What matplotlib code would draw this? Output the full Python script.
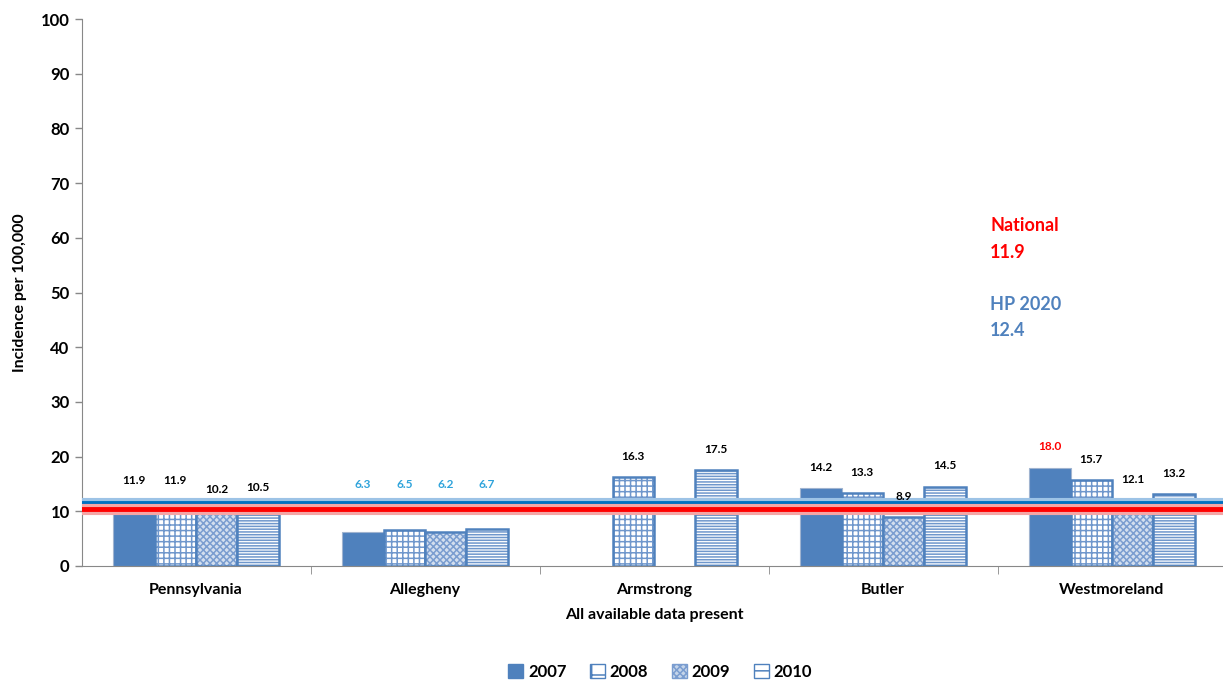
import numpy as np
import matplotlib.pyplot as plt
from matplotlib.patches import Patch

plt.rcParams['font.family'] = ['Lato', 'DejaVu Sans']
plt.rcParams['font.weight'] = 'bold'
plt.rcParams['hatch.linewidth'] = 1.1

counties = ['Pennsylvania', 'Allegheny', 'Armstrong', 'Butler', 'Westmoreland']
years = ['2007', '2008', '2009', '2010']
v2007 = [11.9, 6.3, np.nan, 14.2, 18.0]
v2008 = [11.9, 6.5, 16.3, 13.3, 15.7]
v2009 = [10.2, 6.2, np.nan, 8.9, 12.1]
v2010 = [10.5, 6.7, 17.5, 14.5, 13.2]
national = 11.9
hp2020 = 12.4
# where the reference lines sit on the chart
national_line = 10.5
hp2020_line = 11.5

BLUE = '#4F81BD'
series = [v2007, v2008, v2009, v2010]

fig = plt.figure(figsize=(12.23, 6.82), dpi=100)
ax = fig.add_axes([81.5 / 1223, 1 - 566 / 682, 1145 / 1223, 547 / 682])

x = np.arange(len(counties))
w = 0.181
offsets = (np.arange(4) - 1.5) * w


def draw_bars(i, vals):
    xs = x + offsets[i]
    if i == 0:
        ax.bar(xs, vals, w, color=BLUE, edgecolor='#A0B4D0', linewidth=0.8, zorder=2)
        return
    if i == 1:
        ax.bar(xs, vals, w, color='white', edgecolor='#6F97CC', hatch='+++', linewidth=0, zorder=2)
    elif i == 2:
        ax.bar(xs, vals, w, color='#D3DFEF', edgecolor='#7A9DD0', hatch='xxxxx', linewidth=0, zorder=2)
    else:
        ax.bar(xs, vals, w, color='white', edgecolor='#6F97CC', hatch='------', linewidth=0, zorder=2)
    ax.bar(xs, vals, w, fill=False, edgecolor=BLUE, linewidth=1.8, zorder=2)


for i, vals in enumerate(series):
    draw_bars(i, vals)

# value labels
for i, vals in enumerate(series):
    for j, v in enumerate(vals):
        if np.isnan(v):
            continue
        color = 'black'
        y = v
        if counties[j] == 'Allegheny':
            color = '#2EA3DB'
            y = 11.1
        if counties[j] == 'Westmoreland' and i == 0:
            color = '#FF0000'
        ax.annotate(f'{v:.1f}', (x[j] + offsets[i], y), xytext=(0, 11),
                    textcoords='offset points', ha='center', va='bottom',
                    fontsize=8.5, fontweight='bold', color=color, zorder=5)

# reference lines with a soft glow
ax.axhline(hp2020_line, color='#9DC3E6', lw=8, zorder=3)
ax.axhline(hp2020_line, color='#0070C0', lw=3.5, zorder=3)
ax.axhline(national_line, color='#F4A6A6', lw=8, zorder=3)
ax.axhline(national_line, color='#FF0000', lw=3.5, zorder=3)

fig.text(990 / 1223, 1 - 226 / 682, 'National', fontsize=13, color='#FF0000', va='center', fontweight='bold')
fig.text(990 / 1223, 1 - 252 / 682, f'{national:.1f}', fontsize=13, color='#FF0000', va='center', fontweight='bold')
fig.text(990 / 1223, 1 - 304 / 682, 'HP 2020', fontsize=13, color=BLUE, va='center', fontweight='bold')
fig.text(990 / 1223, 1 - 330 / 682, f'{hp2020:.1f}', fontsize=13, color=BLUE, va='center', fontweight='bold')

ax.set_ylim(0, 100)
ax.set_xlim(-0.5, len(counties) - 0.5)
ax.set_yticks(np.arange(0, 101, 10))
ax.tick_params(axis='y', labelsize=12, length=5, color='#888888', width=1)
ax.set_xticks(x)
ax.set_xticklabels(counties, fontsize=11.5, fontweight='bold')
ax.tick_params(axis='x', length=0, pad=12)
ax.set_xticks(np.arange(0.5, len(counties) - 0.5, 1), minor=True)
ax.tick_params(axis='x', which='minor', length=6, color='#888888')
for lab in ax.get_yticklabels():
    lab.set_fontweight('bold')

ax.set_xlabel('All available data present', fontsize=11.5, fontweight='bold', labelpad=8)
ax.set_ylabel('Incidence per 100,000', fontsize=11.5, fontweight='bold', labelpad=10)

for s in ['top', 'right']:
    ax.spines[s].set_visible(False)
ax.spines['left'].set_color('#888888')
ax.spines['bottom'].set_color('#888888')

handles = [
    Patch(facecolor=BLUE, edgecolor=BLUE),
    Patch(facecolor='white', edgecolor=BLUE, hatch='+'),
    Patch(facecolor='#C5D5EA', edgecolor='#7A9DD0', hatch='xxxxx'),
    Patch(facecolor='white', edgecolor=BLUE, hatch='--'),
]
fig.legend(handles, years, loc='center', bbox_to_anchor=(660 / 1223, 1 - 672 / 682),
           ncol=4, frameon=False, handlelength=0.9, handleheight=0.9,
           handletextpad=0.3, columnspacing=1.4, prop={'weight': 'bold', 'size': 12})

fig.savefig('out.png', dpi=100)
